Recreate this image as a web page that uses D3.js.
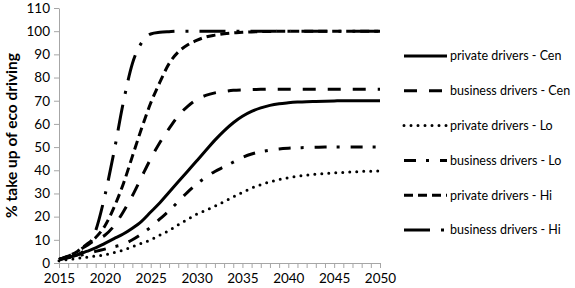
<!DOCTYPE html>
<html>
<head>
<meta charset="utf-8">
<script src="https://cdn.jsdelivr.net/npm/d3@7"></script>
<style>
  body { margin: 0; background: #fff; }
  svg text { font-family: Lato, "Open Sans", sans-serif; fill: #000; }
  .axis path, .axis line { stroke: #a6a6a6; }
</style>
</head>
<body>
<svg id="chart" width="575" height="288"></svg>
<script>
// years on the x axis
var years = d3.range(2015, 2051);

// series values, one per year 2015..2050
var privateCen = [1.5, 2.5, 3.5, 5, 6.5, 8.5, 10.5, 12.5, 15, 18, 22, 26, 30.5, 35, 39.5, 44, 48.5, 53, 57, 60.5, 63.3, 65.4, 66.9, 68, 68.7, 69.1, 69.4, 69.6, 69.7, 69.8, 69.9, 70, 70, 70, 70, 70];
var businessCen = [1.5, 3, 5, 7.5, 10, 12, 16, 22, 29, 37, 45, 52, 58, 63.5, 67.5, 70.5, 72.3, 73.4, 74, 74.5, 74.7, 74.8, 74.9, 75, 75, 75, 75, 75, 75, 75, 75, 75, 75, 75, 75, 75];
var privateLo = [1, 1.5, 2, 2.5, 3, 3.5, 4.5, 5.5, 7, 8.5, 10, 12, 14, 16.5, 18.8, 21, 22.7, 24.5, 26.5, 28.5, 30.5, 32.3, 33.8, 35, 36, 36.8, 37.4, 37.9, 38.3, 38.6, 38.9, 39.1, 39.3, 39.5, 39.6, 39.7];
var businessLo = [1.5, 2.3, 3, 4, 5, 6, 7, 8, 10, 12.5, 15.5, 19, 22.5, 26.5, 30.5, 34, 37, 39.5, 41.5, 43.5, 45.5, 47, 48, 48.7, 49.2, 49.5, 49.7, 49.8, 49.9, 50, 50, 50, 50, 50, 50, 50];
var privateHi = [1.5, 3, 5, 8, 11, 16, 24, 34, 46, 58, 69, 78, 86, 91, 94, 96, 97.5, 98.3, 98.9, 99.3, 99.5, 99.7, 99.8, 99.9, 100, 100, 100, 100, 100, 100, 100, 100, 100, 100, 100, 100];
var businessHi = [1.5, 2.5, 3.5, 6.5, 14, 29, 48, 69, 86, 95, 98.8, 99.5, 99.8, 100, 100, 100, 100, 100, 100, 100, 100, 100, 100, 100, 100, 100, 100, 100, 100, 100, 100, 100, 100, 100, 100, 100];

var seriesNames = ["private drivers - Cen", "business drivers - Cen", "private drivers - Lo",
                   "business drivers - Lo", "private drivers - Hi", "business drivers - Hi"];
var seriesValues = [privateCen, businessCen, privateLo, businessLo, privateHi, businessHi];

var yTicks = d3.range(0, 111, 10);
var xLabels = [2015, 2020, 2025, 2030, 2035, 2040, 2045, 2050];

// line styles: dash pattern and cap for each series
var dashes = [null, "13,12", "0,7", "12,10,3,11", "9,5", "26,11,3,11"];
var caps = ["butt", "butt", "round", "butt", "butt", "butt"];

var plot = {left: 59, right: 380, top: 8, bottom: 263};

var svg = d3.select("#chart");

var x = d3.scaleLinear().domain([2015, 2050]).range([plot.left, plot.right]);
var y = d3.scaleLinear().domain([0, 110]).range([plot.bottom, plot.top]);

/* y axis */
var yAxis = d3.axisLeft(y).tickValues(yTicks).tickSize(5).tickPadding(4).tickSizeOuter(0);
var gy = svg.append("g")
    .attr("class", "axis")
    .attr("transform", "translate(" + plot.left + ",0)")
    .call(yAxis);
gy.selectAll("text").style("font-size", "13.5px");

/* x axis: a tick every year, labels every 5 years */
var xAxis = d3.axisBottom(x).tickValues(years).tickSize(5).tickPadding(5).tickSizeOuter(0)
    .tickFormat(function(d) { return xLabels.indexOf(d) >= 0 ? d : ""; });
var gx = svg.append("g")
    .attr("class", "axis")
    .attr("transform", "translate(0," + plot.bottom + ")")
    .call(xAxis);
gx.selectAll("text").style("font-size", "13.5px");
gx.selectAll("text").filter(function() { return this.textContent === ""; }).remove();

/* y axis title */
svg.append("text")
    .attr("transform", "translate(17," + ((plot.top + plot.bottom) / 2) + ") rotate(-90)")
    .attr("text-anchor", "middle")
    .style("font-size", "15.5px")
    .style("font-weight", "bold")
    .text("% take up of eco driving");

var line = d3.line()
    .x(function(d, i) { return x(years[i]); })
    .y(function(d) { return y(d); })
    .curve(d3.curveMonotoneX);

svg.selectAll(".series")
    .data(seriesValues)
    .enter()
    .append("path")
    .attr("class", "series")
    .attr("d", line)
    .attr("fill", "none")
    .attr("stroke", "#000")
    .attr("stroke-width", 3)
    .attr("stroke-linecap", function(d, i) { return caps[i]; })
    .attr("stroke-dasharray", function(d, i) { return dashes[i]; });

/* legend */
var legend = svg.selectAll(".legend")
    .data(seriesNames)
    .enter()
    .append("g")
    .attr("class", "legend")
    .attr("transform", function(d, i) { return "translate(404," + (56 + i * 34.8) + ")"; });

legend.append("line")
    .attr("x1", 0).attr("x2", 43)
    .attr("stroke", "#000")
    .attr("stroke-width", 3)
    .attr("stroke-linecap", function(d, i) { return caps[i]; })
    .attr("stroke-dasharray", function(d, i) { return dashes[i]; });

legend.append("text")
    .attr("x", 46)
    .attr("dy", "0.35em")
    .style("font-size", "12.5px")
    .text(function(d) { return d; });
</script>
</body>
</html>
